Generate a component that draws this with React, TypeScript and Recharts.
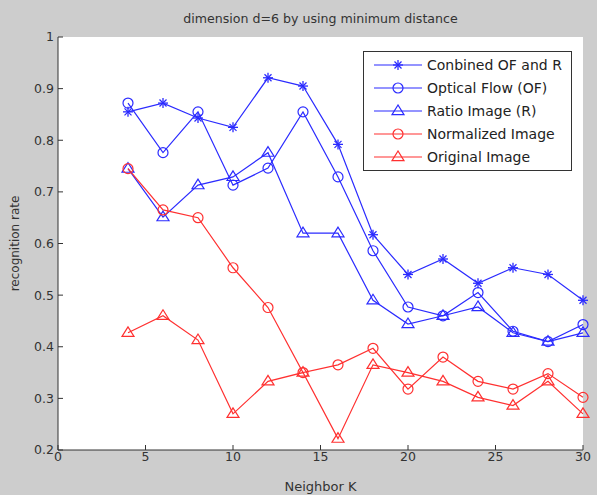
import React from "react";
import { LineChart, Line, XAxis, YAxis, CartesianGrid, Legend } from "recharts";

const neighborK = [4, 6, 8, 10, 12, 14, 16, 18, 20, 22, 24, 26, 28, 30];
const combined = [0.855, 0.872, 0.843, 0.825, 0.921, 0.905, 0.792, 0.617, 0.54, 0.57, 0.523, 0.553, 0.54, 0.49];
const opticalFlow = [0.872, 0.776, 0.855, 0.713, 0.746, 0.855, 0.729, 0.586, 0.477, 0.46, 0.505, 0.43, 0.41, 0.443];
const ratioImage = [0.745, 0.651, 0.713, 0.729, 0.776, 0.62, 0.62, 0.49, 0.444, 0.46, 0.477, 0.427, 0.41, 0.427];
const normalized = [0.745, 0.665, 0.65, 0.553, 0.476, 0.35, 0.365, 0.397, 0.318, 0.38, 0.333, 0.318, 0.348, 0.302];
const original = [0.427, 0.46, 0.413, 0.27, 0.333, 0.35, 0.222, 0.365, 0.35, 0.333, 0.302, 0.286, 0.333, 0.27];

const xTicks = [0, 5, 10, 15, 20, 25, 30];
const yTicks = [0.2, 0.3, 0.4, 0.5, 0.6, 0.7, 0.8, 0.9, 1];

const TITLE = "dimension d=6 by using minimum distance";

const BLUE = "#2b2bff";
const RED = "#ff3030";
const FONT = "'DejaVu Sans', Verdana, sans-serif";

type Marker = "star" | "circle" | "triangle";

const SERIES: { key: string; label: string; color: string; marker: Marker }[] = [
  { key: "combined", label: "Conbined OF and R", color: BLUE, marker: "star" },
  { key: "of", label: "Optical Flow (OF)", color: BLUE, marker: "circle" },
  { key: "ratio", label: "Ratio Image (R)", color: BLUE, marker: "triangle" },
  { key: "norm", label: "Normalized Image", color: RED, marker: "circle" },
  { key: "orig", label: "Original Image", color: RED, marker: "triangle" },
];

const data = neighborK.map((k, i) => ({
  k,
  combined: combined[i],
  of: opticalFlow[i],
  ratio: ratioImage[i],
  norm: normalized[i],
  orig: original[i],
}));

function MarkerShape({ cx, cy, type, color }: { cx: number; cy: number; type: Marker; color: string }) {
  if (cx == null || cy == null) return null;
  if (type === "circle") {
    return <circle cx={cx} cy={cy} r={5} fill="none" stroke={color} strokeWidth={1.2} />;
  }
  if (type === "triangle") {
    const r = 6;
    return (
      <polygon
        points={`${cx},${cy - r} ${cx - r},${cy + r * 0.6} ${cx + r},${cy + r * 0.6}`}
        fill="none"
        stroke={color}
        strokeWidth={1.2}
      />
    );
  }
  const r = 5;
  const d = r * 0.7;
  return (
    <g stroke={color} strokeWidth={1.3}>
      <line x1={cx - r} y1={cy} x2={cx + r} y2={cy} />
      <line x1={cx} y1={cy - r} x2={cx} y2={cy + r} />
      <line x1={cx - d} y1={cy - d} x2={cx + d} y2={cy + d} />
      <line x1={cx - d} y1={cy + d} x2={cx + d} y2={cy - d} />
    </g>
  );
}

function LegendBox() {
  return (
    <div
      style={{
        background: "#fff",
        border: "1px solid #333",
        width: 207,
        padding: "1px 0",
        fontFamily: FONT,
        fontSize: 14,
        color: "#222",
      }}
    >
      {SERIES.map((s) => (
        <div key={s.key} style={{ display: "flex", alignItems: "center", height: 23.2 }}>
          <svg width={63} height={14} style={{ flex: "none" }}>
            <line x1={10} y1={7} x2={58} y2={7} stroke={s.color} strokeWidth={1.2} />
            <MarkerShape cx={34} cy={7} type={s.marker} color={s.color} />
          </svg>
          <span style={{ whiteSpace: "nowrap" }}>{s.label}</span>
        </div>
      ))}
    </div>
  );
}

const tickStyle = { fontSize: 12.5, fill: "#333", fontFamily: FONT };
const axisColor = "#333";
const noTick = () => <g />;

export default function App() {
  return (
    <div style={{ position: "absolute", left: 0, top: 0, width: 597, height: 495, background: "#cdcdcd" }}>
      <div
        style={{
          position: "absolute",
          left: 58,
          width: 525,
          top: 11,
          textAlign: "center",
          fontFamily: FONT,
          fontSize: 12.6,
          color: "#333",
        }}
      >
        {TITLE}
      </div>
      <LineChart width={597} height={495} data={data} margin={{ top: 37, right: 14, bottom: 0, left: 0 }}>
        <CartesianGrid fill="#fff" horizontal={false} vertical={false} />
        <XAxis
          dataKey="k"
          type="number"
          domain={[0, 30]}
          ticks={xTicks}
          height={45}
          tickSize={-5}
          tickMargin={7}
          tick={tickStyle}
          axisLine={{ stroke: axisColor }}
          tickLine={{ stroke: axisColor }}
          label={{ value: "Neighbor K", position: "insideBottom", offset: 4, style: { ...tickStyle, fontSize: 13 } }}
        />
        <XAxis
          xAxisId="top"
          orientation="top"
          dataKey="k"
          type="number"
          domain={[0, 30]}
          ticks={xTicks}
          height={0}
          tickSize={-5}
          tick={noTick}
          axisLine={{ stroke: axisColor }}
          tickLine={{ stroke: axisColor }}
        />
        <YAxis
          type="number"
          domain={[0.2, 1]}
          ticks={yTicks}
          width={58}
          tickSize={-5}
          tickMargin={9}
          tick={tickStyle}
          tickFormatter={(v: number) => (v === 1 ? "1" : v.toFixed(1))}
          axisLine={{ stroke: axisColor }}
          tickLine={{ stroke: axisColor }}
          label={{
            value: "recognition rate",
            angle: -90,
            position: "insideLeft",
            offset: 15,
            style: { ...tickStyle, fontSize: 12, textAnchor: "middle" },
          }}
        />
        <YAxis
          yAxisId="right"
          orientation="right"
          type="number"
          domain={[0.2, 1]}
          ticks={yTicks}
          width={0}
          tickSize={-5}
          tick={noTick}
          axisLine={{ stroke: axisColor }}
          tickLine={{ stroke: axisColor }}
        />
        <Legend
          layout="vertical"
          align="center"
          verticalAlign="middle"
          content={() => <LegendBox />}
          wrapperStyle={{ position: "absolute", left: 363, top: 51, width: 209 }}
        />
        {SERIES.map((s) => (
          <Line
            key={s.key}
            dataKey={s.key}
            stroke={s.color}
            strokeWidth={1.2}
            isAnimationActive={false}
            dot={(p: any) => <MarkerShape key={`${s.key}-${p.index}`} cx={p.cx} cy={p.cy} type={s.marker} color={s.color} />}
            activeDot={false}
          />
        ))}
      </LineChart>
    </div>
  );
}
